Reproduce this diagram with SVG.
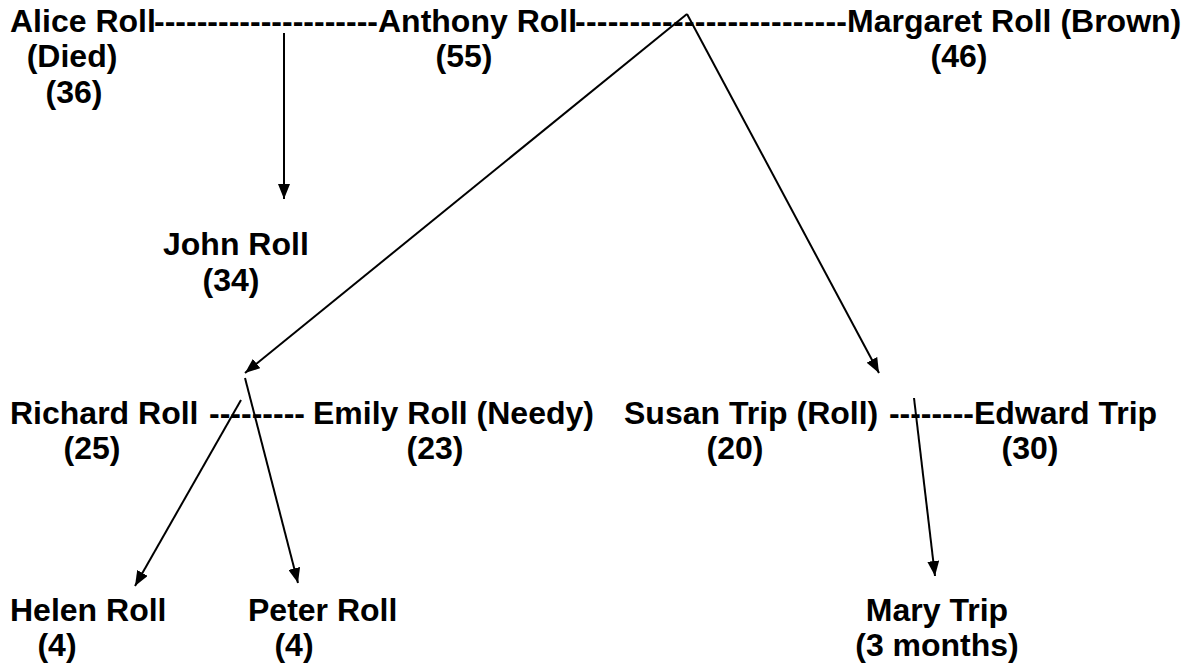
<svg xmlns="http://www.w3.org/2000/svg" width="1185" height="664" viewBox="0 0 1185 664">
  <defs>
    <marker id="arrow" viewBox="0 0 15 12" refX="15" refY="6" markerWidth="15" markerHeight="12" markerUnits="userSpaceOnUse" orient="auto">
      <path d="M0,0 L15,6 L0,12 Z" fill="#000"/>
    </marker>
    <style>
      text { font-family: "Liberation Sans", Arial, sans-serif; font-weight: bold; font-size: 32px; fill: #000; }
      .mid { text-anchor: middle; }
      .link { fill: none; stroke: #000; stroke-width: 2; }
    </style>
  </defs>
  <rect width="1185" height="664" fill="#fff"/>

  <!-- marriage dashes and descent arrows -->
  <g id="connectors">
    <text x="154" y="32" textLength="224" lengthAdjust="spacing">---------------------</text>
    <text x="575" y="32" textLength="272" lengthAdjust="spacing">-------------------------</text>
    <text x="209" y="424" textLength="96" lengthAdjust="spacing">---------</text>
    <text x="889" y="424" textLength="85" lengthAdjust="spacing">--------</text>
    <path class="link" d="M284,33 V199" marker-end="url(#arrow)"/>
    <path class="link" d="M687,14 L245,373" marker-end="url(#arrow)"/>
    <path class="link" d="M687,14 L879,373" marker-end="url(#arrow)"/>
    <path class="link" d="M245,378 L298,583" marker-end="url(#arrow)"/>
    <path class="link" d="M241,400 L135,586" marker-end="url(#arrow)"/>
    <path class="link" d="M914,398 L935,576" marker-end="url(#arrow)"/>
  </g>

  <g id="alice">
    <text x="10" y="32">Alice Roll</text>
    <text class="mid" x="72" y="67">(Died)</text>
    <text class="mid" x="74" y="103">(36)</text>
  </g>
  <g id="anthony">
    <text x="378" y="32">Anthony Roll</text>
    <text class="mid" x="464" y="67">(55)</text>
  </g>
  <g id="margaret">
    <text x="847" y="32">Margaret Roll (Brown)</text>
    <text class="mid" x="959" y="67">(46)</text>
  </g>
  <g id="john">
    <text x="163" y="255">John Roll</text>
    <text class="mid" x="231" y="291">(34)</text>
  </g>
  <g id="richard">
    <text x="10" y="424">Richard Roll</text>
    <text class="mid" x="92" y="459">(25)</text>
  </g>
  <g id="emily">
    <text x="313" y="424">Emily Roll (Needy)</text>
    <text class="mid" x="435" y="459">(23)</text>
  </g>
  <g id="susan">
    <text x="624" y="424">Susan Trip (Roll)</text>
    <text class="mid" x="735" y="459">(20)</text>
  </g>
  <g id="edward">
    <text x="974" y="424">Edward Trip</text>
    <text class="mid" x="1030" y="459">(30)</text>
  </g>
  <g id="helen">
    <text x="10" y="621">Helen Roll</text>
    <text class="mid" x="57" y="656">(4)</text>
  </g>
  <g id="peter">
    <text x="248" y="621">Peter Roll</text>
    <text class="mid" x="294" y="656">(4)</text>
  </g>
  <g id="mary">
    <text class="mid" x="937" y="621">Mary Trip</text>
    <text class="mid" x="937" y="656">(3 months)</text>
  </g>
</svg>
